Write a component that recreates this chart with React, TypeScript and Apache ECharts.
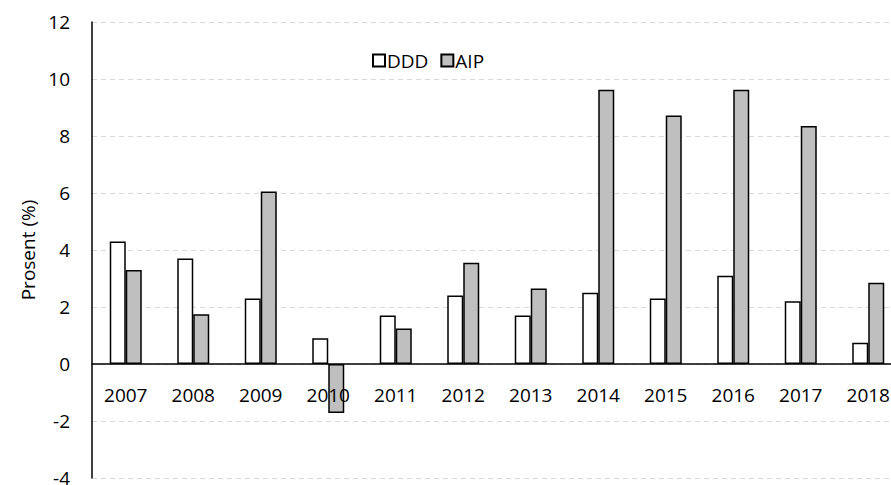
import React, { useEffect, useRef } from "react";
import * as echarts from "echarts";

const years = ["2007", "2008", "2009", "2010", "2011", "2012", "2013", "2014", "2015", "2016", "2017", "2018"];
const ddd = [4.3, 3.7, 2.3, 0.9, 1.7, 2.4, 1.7, 2.5, 2.3, 3.1, 2.2, 0.75];
const aip = [3.3, 1.75, 6.05, -1.72, 1.25, 3.55, 2.65, 9.62, 8.72, 9.62, 8.35, 2.85];
const font = "'Open Sans', 'Liberation Sans', sans-serif";

export default function App() {
  const ref = useRef<HTMLDivElement>(null);
  useEffect(() => {
    const chart = echarts.init(ref.current!, null, { renderer: "svg" });
    chart.setOption({
      animation: false,
      textStyle: { fontFamily: font },
      legend: {
        left: 367,
        top: 46,
        itemWidth: 12,
        itemHeight: 12,
        itemGap: 12,
        icon: "rect",
        textStyle: { fontSize: 19, color: "#000", fontFamily: font, padding: [0, 0, 0, -3] },
        data: ["DDD", "AIP"],
      },
      grid: { left: 92, top: 22, width: 810, bottom: 7, outerBoundsMode: "none", containLabel: false },
      xAxis: {
        type: "category",
        data: years,
        offset: -114,
        z: 10,
        axisLine: { onZero: false, lineStyle: { color: "#000", width: 1.5 } },
        axisTick: { show: false },
        axisLabel: { fontSize: 19, color: "#000", margin: 21, fontFamily: font },
      },
      yAxis: {
        type: "value",
        min: -4,
        max: 12,
        interval: 2,
        name: "Prosent (%)",
        nameLocation: "middle",
        nameGap: 55,
        nameTextStyle: { fontSize: 19, color: "#000", fontFamily: font },
        axisLine: { show: true, lineStyle: { color: "#000", width: 1.5 } },
        axisTick: { show: false },
        axisLabel: { fontSize: 19, color: "#000", margin: 22, fontFamily: font },
        splitLine: { lineStyle: { color: "#d9d9d9", type: [5, 4], width: 1 } },
      },
      series: [
        {
          name: "DDD",
          type: "bar",
          data: ddd,
          barWidth: 16,
          barGap: "0%",
          itemStyle: { color: "#ffffff", borderColor: "#000", borderWidth: 1.5 },
        },
        {
          name: "AIP",
          type: "bar",
          data: aip,
          barWidth: 16,
          barGap: "0%",
          itemStyle: { color: "#bfbfbf", borderColor: "#000", borderWidth: 1.5 },
        },
      ],
    });
    return () => chart.dispose();
  }, []);
  return <div ref={ref} style={{ width: 891, height: 485, position: "absolute", left: 0, top: 0 }} />;
}
